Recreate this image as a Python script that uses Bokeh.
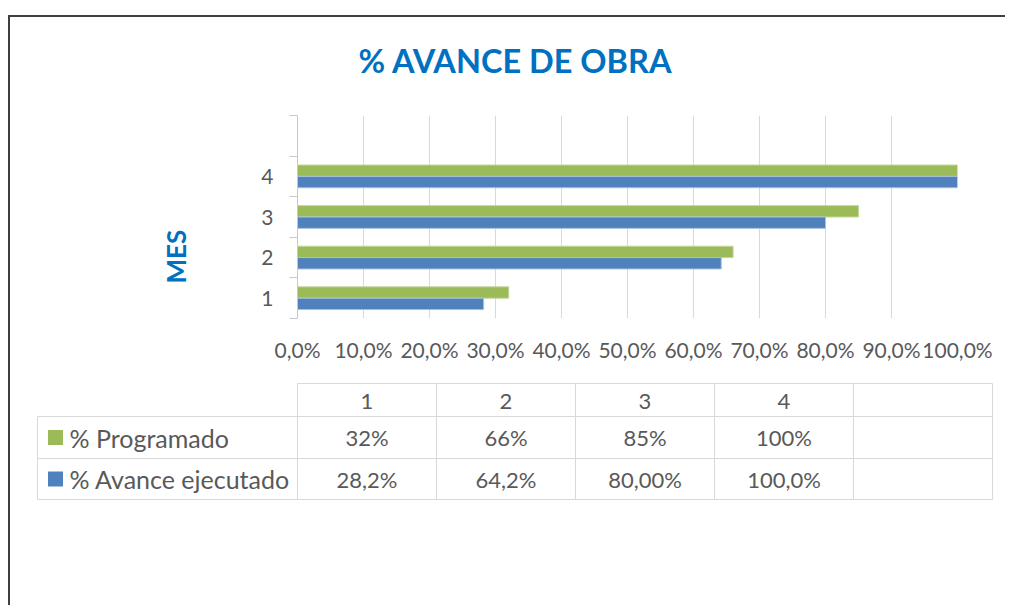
from bokeh.plotting import figure
from bokeh.models import Range1d, FixedTicker, ColumnDataSource, Title
from bokeh.transform import dodge
from bokeh.core.properties import value
from bokeh.embed import file_html
from bokeh.resources import INLINE

# ---------------- data ----------------
chart_title = "% AVANCE DE OBRA"
axis_title = "MES"
months = [1, 2, 3, 4]
month_labels = ["1", "2", "3", "4"]
programado = [32, 66, 85, 100]
ejecutado = [28.2, 64.2, 80.0, 100.0]
programado_labels = ["32%", "66%", "85%", "100%"]
ejecutado_labels = ["28,2%", "64,2%", "80,00%", "100,0%"]
series_names = ["% Programado", "% Avance ejecutado"]
x_ticks = [0, 10, 20, 30, 40, 50, 60, 70, 80, 90, 100]
x_tick_labels = ["0,0%", "10,0%", "20,0%", "30,0%", "40,0%", "50,0%",
                 "60,0%", "70,0%", "80,0%", "90,0%", "100,0%"]

# ---------------- style ----------------
GREEN = "#9BBB59"
BLUE = "#4F81BD"
GREEN_EDGE = "#C3D69B"
BLUE_EDGE = "#A7C0DE"
TEXT = "#595959"
TITLE_BLUE = "#0070C0"
GRID = "#D9D9D9"
AXIS = "#C8C8C8"
FRAME = "#3F3F3F"
FONT = "Lato"
W = 997


def blank(height):
    f = figure(width=W, height=height, x_range=Range1d(0, W), y_range=Range1d(height, 0),
               output_backend="svg", toolbar_location=None, min_border=0,
               x_axis_location=None, y_axis_location=None)
    f.outline_line_color = None
    f.grid.visible = False
    return f


# ---------------- title strip ----------------
HH = 72
h = blank(HH)
h.margin = (15, 0, 0, 8)
h.styles = {"border-top": f"2px solid {FRAME}", "border-left": f"2px solid {FRAME}"}
h.text(x=[348], y=[43], text=[chart_title], text_align="left", text_baseline="middle",
       text_font=value(FONT), text_font_size="32.5px", text_font_style="bold",
       text_color=TITLE_BLUE)

# ---------------- chart ----------------
PH = 283
p = figure(width=W, height=PH, x_range=Range1d(0, 100), y_range=Range1d(0.5, 5.5),
           output_backend="svg", toolbar_location=None,
           min_border_left=287, min_border_right=W - 287 - 660,
           min_border_top=28, min_border_bottom=PH - 28 - 203)
p.outline_line_color = None
p.margin = (0, 0, 0, 8)
p.styles = {"border-left": f"2px solid {FRAME}"}

src = ColumnDataSource(dict(mes=months, prog=programado, ejec=ejecutado))
p.hbar(y=dodge("mes", 0.14), left=0, right="prog", height=0.28, source=src,
       fill_color=GREEN, line_color=GREEN_EDGE, line_width=1)
p.hbar(y=dodge("mes", -0.14), left=0, right="ejec", height=0.28, source=src,
       fill_color=BLUE, line_color=BLUE_EDGE, line_width=1)

# x axis
p.xaxis.ticker = FixedTicker(ticks=x_ticks)
p.xaxis.major_label_overrides = dict(zip(x_ticks, x_tick_labels))
p.xaxis.axis_line_color = None
p.xaxis.major_tick_line_color = None
p.xaxis.minor_tick_line_color = None
p.xaxis.major_tick_out = 0
p.xaxis.major_label_standoff = 18
p.xaxis.major_label_text_font = FONT
p.xaxis.major_label_text_font_size = "21px"
p.xaxis.major_label_text_color = TEXT

# y axis
p.yaxis.ticker = FixedTicker(ticks=months, minor_ticks=[0.5 + i for i in range(6)])
p.yaxis.major_label_overrides = dict(zip(months, month_labels))
p.yaxis.axis_line_color = AXIS
p.yaxis.major_tick_out = 0
p.yaxis.major_tick_in = 0
p.yaxis.minor_tick_out = 8
p.yaxis.minor_tick_in = 0
p.yaxis.minor_tick_line_color = AXIS
p.yaxis.major_label_standoff = 16
p.yaxis.major_label_text_font = FONT
p.yaxis.major_label_text_font_size = "21px"
p.yaxis.major_label_text_color = TEXT

# vertical axis title
p.add_layout(Title(text=axis_title, align="left", offset=35, standoff=133,
                   text_font=FONT, text_font_size="26px", text_font_style="bold",
                   text_color=TITLE_BLUE), "left")

p.xgrid.grid_line_color = GRID
p.xgrid.grid_line_width = 1
p.ygrid.grid_line_color = None

# ---------------- data table ----------------
TH = 235
t = blank(TH)
t.margin = (0, 0, 0, 8)
t.styles = {"border-left": f"2px solid {FRAME}"}

col_left = 287
col_w = 139
n_cols = len(months) + 1
leg_left = 27
row_edges = [13, 46, 88, 129]  # header top, row1 top, row2 top, bottom
table_right = col_left + n_cols * col_w

hx0 = [col_left, leg_left, leg_left, leg_left]
hx1 = [table_right] * 4
t.segment(x0=hx0, y0=row_edges, x1=hx1, y1=row_edges, line_color=GRID, line_width=1)
vx = [leg_left] + [col_left + i * col_w for i in range(n_cols + 1)]
vy0 = [row_edges[1]] + [row_edges[0]] * (n_cols + 1)
vy1 = [row_edges[3]] * (n_cols + 2)
t.segment(x0=vx, y0=vy0, x1=vx, y1=vy1, line_color=GRID, line_width=1)

centers = [col_left + col_w * (i + 0.5) for i in range(len(months))]
row_mid = [(row_edges[i] + row_edges[i + 1]) / 2 for i in range(3)]

txt_kw = dict(text_align="center", text_baseline="middle", text_font=value(FONT),
              text_font_size="22px", text_color=TEXT)
t.text(x=centers, y=[row_mid[0] + 1] * 4, text=month_labels, **txt_kw)
t.text(x=centers, y=[row_mid[1]] * 4, text=programado_labels, **txt_kw)
t.text(x=centers, y=[row_mid[2]] * 4, text=ejecutado_labels, **txt_kw)

t.rect(x=[leg_left + 18] * 2, y=row_mid[1:], width=15, height=15,
       fill_color=[GREEN, BLUE], line_color=None)
t.text(x=[leg_left + 32] * 2, y=row_mid[1:], text=series_names,
       text_align="left", text_baseline="middle", text_font=value(FONT),
       text_font_size="25px", text_color=TEXT)

open("out.html", "w").write(file_html([h, p, t], INLINE))
